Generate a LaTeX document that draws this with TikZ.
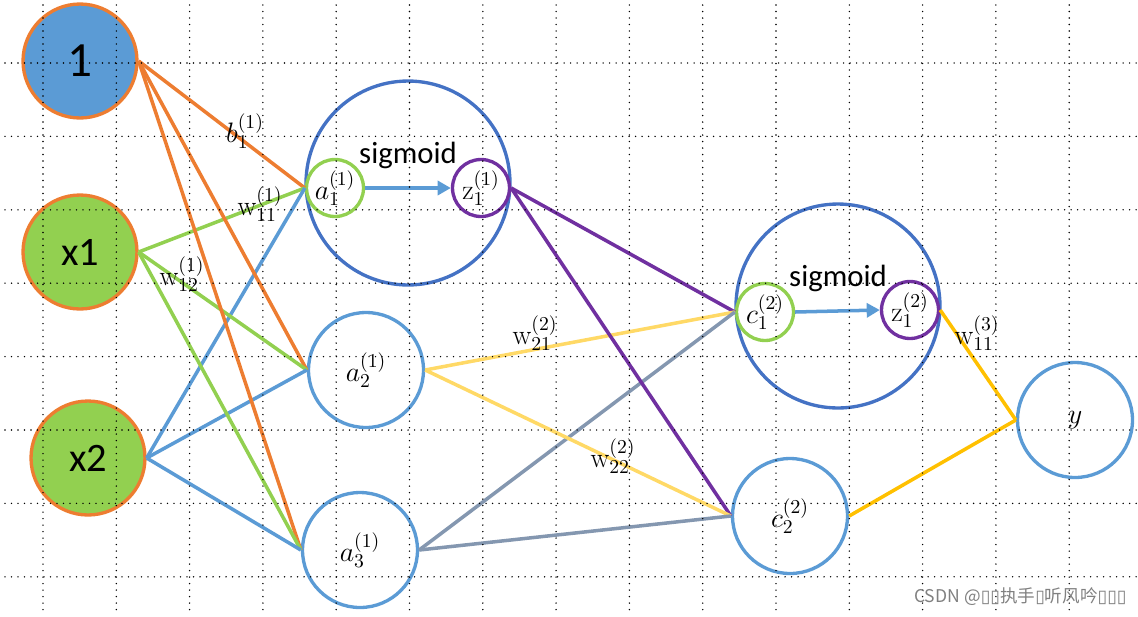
\RequirePackage{fix-cm}
\documentclass[tikz,border=0pt]{standalone}
\usepackage{fontspec}
\newfontfamily\calibri{Carlito}
\newfontfamily\cjk{Noto Sans CJK SC}
\newfontfamily\dejavu{DejaVu Sans}
\usetikzlibrary{arrows.meta}
\definecolor{orangeb}{HTML}{ED7D31}
\definecolor{bleu}{HTML}{5B9BD5}
\definecolor{bleufonce}{HTML}{4472C4}
\definecolor{vert}{HTML}{92D050}
\definecolor{violet}{HTML}{7030A0}
\definecolor{jaune}{HTML}{FFD966}
\definecolor{or}{HTML}{FFC000}
\definecolor{gris}{HTML}{8497B0}
\newcommand\taille[1]{\fontsize{#1}{#1}\selectfont}
\begin{document}
\begin{tikzpicture}[x=0.02cm, y=-0.02cm,
    entree/.style={circle, draw=orangeb, line width=1.9pt, minimum size=2.28cm, inner sep=0pt},
    neurone/.style={circle, draw=bleu, line width=1.9pt, minimum size=2.3cm, inner sep=0pt, font=\taille{16}},
    couche/.style={circle, draw=bleufonce, line width=1.9pt, minimum size=4.08cm, inner sep=0pt},
    petit/.style={circle, line width=1.9pt, minimum size=1.14cm, inner sep=0pt, font=\taille{16}},
    lien/.style={line width=2pt},
    poids/.style={inner sep=0pt, font=\taille{16}},
    grille/.style={dash pattern=on 0pt off 3.7pt, line cap=round, line width=0.9pt}]
    \useasboundingbox (0,0) rectangle (1138,616);

    % Entrées
    \node[entree, fill=bleu, font=\calibri\taille{28}] (un) at (80,61) {1};
    \node[entree, fill=vert, font=\calibri\taille{23}] (x1) at (80,252) {x1};
    \node[entree, fill=vert, font=\calibri\taille{23}] (x2) at (88,458) {x2};

    % Première couche
    \node[couche] (sig1) at (408,183) {};
    \node[petit, draw=vert] (a1) at (335,188) {$a_1^{(1)}$};
    \node[petit, draw=violet] (z1) at (481,188) {$\mathrm{z}_1^{(1)}$};
    \node[font=\calibri\taille{17.5}] (s1) at (408,155) {sigmoid};
    \node[neurone] (a2) at (366,370) {$a_2^{(1)}$};
    \node[neurone] (a3) at (360,550) {$a_3^{(1)}$};

    % Deuxième couche
    \node[couche] (sig2) at (838,306) {};
    \node[petit, draw=vert] (c1) at (765,312) {$c_1^{(2)}$};
    \node[petit, draw=violet] (z2) at (910,310) {$\mathrm{z}_1^{(2)}$};
    \node[font=\calibri\taille{17.5}] (s2) at (838,278) {sigmoid};
    \node[neurone] (c2) at (790,516) {$c_2^{(2)}$};
    \node[neurone] (y) at (1075,420) {$y$};

    % Liaisons
    \foreach \n in {a1,a2,a3} {
        \draw[lien, orangeb] (un.east) -- (\n.west);
        \draw[lien, vert] (x1.east) -- (\n.west);
        \draw[lien, bleu] (x2.east) -- (\n.west);
    }
    \foreach \n in {c1,c2} {
        \draw[lien, violet] (z1.east) -- (\n.west);
        \draw[lien, jaune] (a2.east) -- (\n.west);
        \draw[lien, gris] (a3.east) -- (\n.west);
    }
    \draw[lien, or] (z2.east) -- (y.west);
    \draw[lien, or] (c2.east) -- (y.west);
    \draw[lien, bleu, -{Triangle[length=7.5pt, width=8pt]}] (a1.east) -- (z1.west);
    \draw[lien, bleu, -{Triangle[length=7.5pt, width=8pt]}] (c1.east) -- (z2.west);

    % Poids
    \node[poids] (lb) at (245,131) {$b_1^{(1)}$};
    \node[poids] (lw11) at (260,204) {$\mathrm{w}_{11}^{(1)}$};
    \node[poids] (lw12) at (182,274) {$\mathrm{w}_{12}^{(1)}$};
    \node[poids] (lw21) at (535,333) {$\mathrm{w}_{21}^{(2)}$};
    \node[poids] (lw22) at (613,456) {$\mathrm{w}_{22}^{(2)}$};
    \node[poids] (lw3) at (977,333) {$\mathrm{w}_{11}^{(3)}$};

    % Grille
    \foreach \i in {0,...,14}
        \draw[grille] (43+73.3*\i,5) -- (43+73.3*\i,616);
    \foreach \j in {0,...,7}
        \draw[grille] (5,63+73.4*\j) -- (1138,63+73.4*\j);

    \node[anchor=west, text=gray, font=\cjk\taille{10}] (marque) at (908,597)
        {CSDN @{\dejavu ▯▯}执手{\dejavu ▯}听风吟{\dejavu ▯▯▯}};
\end{tikzpicture}
\end{document}
